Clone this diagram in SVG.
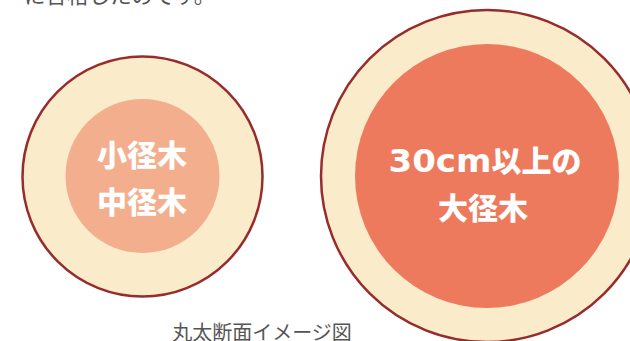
<svg xmlns="http://www.w3.org/2000/svg" width="630" height="341" viewBox="0 0 630 341">
<style>
.bg{fill:#ffffff}
.outer{fill:#FAEBCA;stroke:#982B2B;stroke-width:2.5}
.lbl{font-family:"Noto Sans CJK JP","Noto Sans",sans-serif;font-weight:900;fill:#ffffff;text-anchor:middle}
.body{font-family:"Noto Sans CJK JP","Noto Sans",sans-serif;fill:#555555}
</style>
<rect class="bg" x="0" y="0" width="630" height="341"/>
<text class="body" x="24" y="3" font-size="21.5">に合格したのです。</text>
<g id="small-log">
<circle class="outer" cx="142.5" cy="176.5" r="120"/>
<circle cx="142.5" cy="176" r="77" fill="#F3AF8D"/>
<text class="lbl" x="142" y="166" font-size="30">小径木</text>
<text class="lbl" x="142" y="213" font-size="30">中径木</text>
</g>
<g id="large-log">
<circle class="outer" cx="487" cy="176" r="166"/>
<circle cx="487" cy="176" r="132" fill="#EE7A5E"/>
<text class="lbl" x="485" y="172" font-size="30"><tspan font-family="'DejaVu Sans',sans-serif" font-weight="bold" font-size="32" textLength="103" lengthAdjust="spacingAndGlyphs">30cm</tspan><tspan>以上の</tspan></text>
<text class="lbl" x="483" y="219" font-size="30">大径木</text>
</g>
<text class="body" x="262" y="340" font-size="20" text-anchor="middle">丸太断面イメージ図</text>
</svg>
